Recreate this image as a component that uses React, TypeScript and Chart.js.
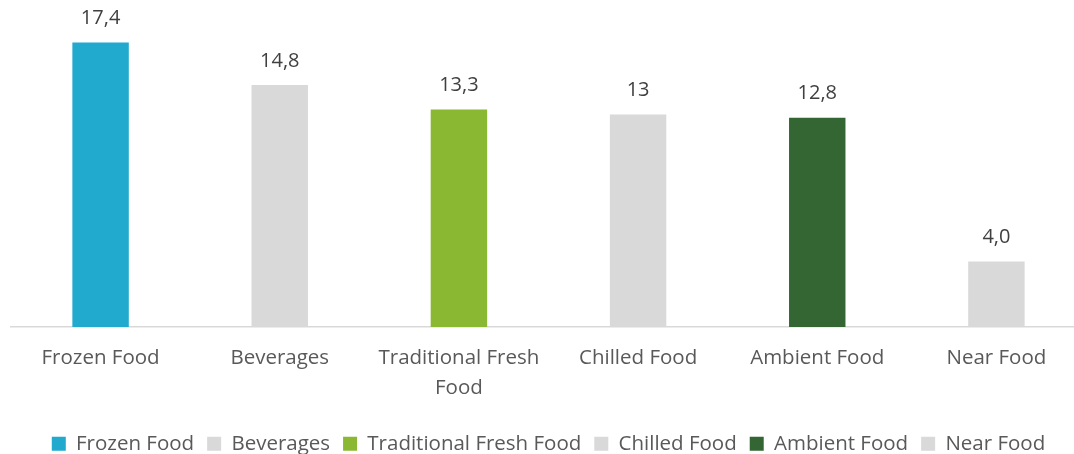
import React, { useEffect, useRef } from "react";
import { Chart, registerables } from "chart.js";

Chart.register(...registerables);

const categories = ["Frozen Food", "Beverages", "Traditional Fresh Food", "Chilled Food", "Ambient Food", "Near Food"];
const values = [17.4, 14.8, 13.3, 13, 12.8, 4.0];
const valueLabels = ["17,4", "14,8", "13,3", "13", "12,8", "4,0"];
const barColors = ["#21A9CE", "#D9D9D9", "#8AB833", "#D9D9D9", "#336633", "#D9D9D9"];

const FONT = "'Open Sans', sans-serif";

const valueLabelPlugin = {
  id: "valueLabels",
  afterDatasetsDraw(chart: any) {
    const ctx = chart.ctx;
    const meta = chart.getDatasetMeta(0);
    ctx.save();
    ctx.font = `20px ${FONT}`;
    ctx.fillStyle = "#404040";
    ctx.textAlign = "center";
    ctx.textBaseline = "middle";
    meta.data.forEach((bar: any, i: number) => {
      ctx.fillText(valueLabels[i], bar.x, bar.y - 24);
    });
    ctx.restore();
  },
};

export default function App() {
  const ref = useRef<HTMLCanvasElement>(null);
  useEffect(() => {
    if (!ref.current) return;
    const chart = new Chart(ref.current, {
      type: "bar",
      data: {
        labels: categories.map((c) => (c === "Traditional Fresh Food" ? ["Traditional Fresh", "Food"] : c)),
        datasets: [
          {
            data: values,
            backgroundColor: barColors,
            barPercentage: 0.315,
            categoryPercentage: 1,
          },
        ],
      },
      options: {
        animation: false,
        responsive: true,
        maintainAspectRatio: false,
        layout: { padding: { left: 11, right: 0, top: 0, bottom: 0 } },
        scales: {
          x: {
            grid: { display: false },
            border: { display: true, color: "#D9D9D9", width: 1.5 },
            ticks: {
              color: "#595959",
              font: { family: FONT, size: 20.5, lineHeight: 1.46 },
              padding: 8,
              maxRotation: 0,
              autoSkip: false,
            },
            afterFit: (scale: any) => {
              scale.height = 93.5;
            },
          },
          y: {
            display: false,
            min: 0,
            max: 20,
          },
        },
        plugins: {
          tooltip: { enabled: false },
          legend: {
            position: "bottom",
            labels: {
              color: "#595959",
              font: { family: FONT, size: 20.5 },
              boxWidth: 14,
              boxHeight: 14,
              padding: 13,
              generateLabels: () =>
                categories.map((c, i) => ({
                  text: c,
                  fillStyle: barColors[i],
                  strokeStyle: barColors[i],
                  lineWidth: 0,
                  hidden: false,
                  index: i,
                  fontColor: "#595959",
                })),
            },
          },
        },
      },
      plugins: [valueLabelPlugin],
    });
    return () => chart.destroy();
  }, []);
  return (
    <div style={{ position: "fixed", left: 0, top: 0, width: 1074, height: 454, overflow: "hidden", background: "#fff" }}>
      <div style={{ position: "relative", width: 1086, height: 464 }}>
        <canvas ref={ref} />
      </div>
    </div>
  );
}
